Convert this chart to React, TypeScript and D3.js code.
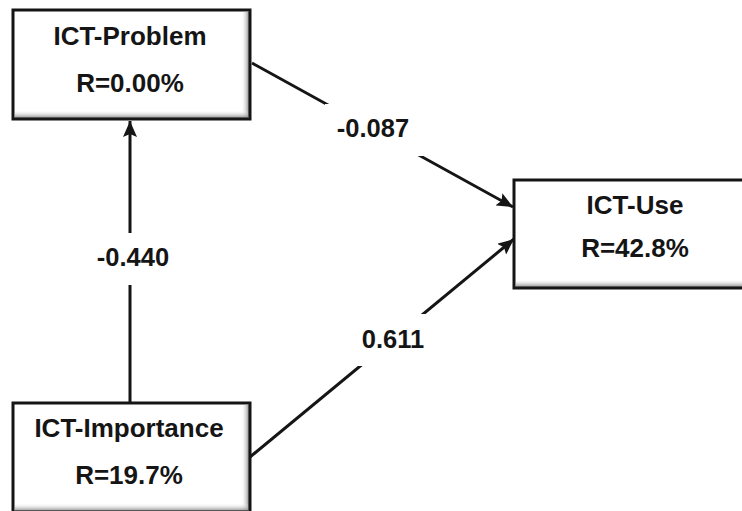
import React from "react";
import * as d3 from "d3";

const nodeNames = ["ICT-Problem", "ICT-Use", "ICT-Importance"];
const nodeR = ["R=0.00%", "R=42.8%", "R=19.7%"];
const pathFrom = [0, 2, 2];
const pathTo = [1, 0, 1];
const pathCoef = ["-0.087", "-0.440", "0.611"];

// layout
const boxes = [
  { x: 13, y: 10, w: 237, h: 109, tx: 130, t1: 45, t2: 92 },
  { x: 514, y: 180, w: 244, h: 108, tx: 635, t1: 214, t2: 257 },
  { x: 13, y: 403, w: 237, h: 109, tx: 129, t1: 437, t2: 484 },
];
const arrows = [
  { x1: 252, y1: 63, x2: 513, y2: 207, lx: 373, ly: 128, rx: 377, ry: 130 },
  { x1: 130, y1: 403, x2: 130, y2: 121, lx: 133, ly: 257, rx: 130, ry: 259 },
  { x1: 250, y1: 457, x2: 514, y2: 239, lx: 393, ly: 339, rx: 395, ry: 340 },
];

const W = 742;
const H = 511;
const font = "'Liberation Sans', Arial, Helvetica, sans-serif";
const ink = "#151515";

export default function App() {
  const line = d3.line<[number, number]>();
  return (
    <svg
      width={W}
      height={H}
      style={{ position: "absolute", left: 0, top: 0, background: "#fff" }}
    >
      <defs>
        <marker
          id="ah"
          markerUnits="userSpaceOnUse"
          markerWidth={18}
          markerHeight={14}
          refX={16}
          refY={7}
          orient="auto"
        >
          <path d="M0,0 L16,7 L0,14 L3,7 Z" fill={ink} />
        </marker>
        <linearGradient id="gr" x1="0" x2="1" y1="0" y2="0">
          <stop offset="0" stopColor="#fff" stopOpacity={0} />
          <stop offset="1" stopColor="#808080" stopOpacity={0.9} />
        </linearGradient>
        <linearGradient id="gb" x1="0" x2="0" y1="0" y2="1">
          <stop offset="0" stopColor="#fff" stopOpacity={0} />
          <stop offset="1" stopColor="#808080" stopOpacity={0.9} />
        </linearGradient>
      </defs>
      {arrows.map((a, i) => (
        <path
          key={"l" + i}
          d={line([
            [a.x1, a.y1],
            [a.x2, a.y2],
          ]) as string}
          stroke={ink}
          strokeWidth={3}
          fill="none"
          markerEnd="url(#ah)"
        />
      ))}
      {arrows.map((a, i) => (
        <g key={"c" + i}>
          <rect x={a.rx - 52} y={a.ry - 26} width={104} height={52} fill="#fff" />
          <text
            x={a.lx}
            y={a.ly}
            textAnchor="middle"
            dominantBaseline="central"
            fontFamily={font}
            fontWeight="bold"
            fontSize={25.5}
            fill={ink}
          >
            {pathCoef[i]}
          </text>
        </g>
      ))}
      {boxes.map((b, i) => (
        <g key={"b" + i}>
          <rect x={b.x} y={b.y} width={b.w} height={b.h} fill="#fff" />
          <rect x={b.x + b.w - 9} y={b.y + 2} width={8} height={b.h - 4} fill="url(#gr)" />
          <rect x={b.x + 2} y={b.y + b.h - 9} width={b.w - 4} height={8} fill="url(#gb)" />
          <rect
            x={b.x}
            y={b.y}
            width={b.w}
            height={b.h}
            fill="none"
            stroke={ink}
            strokeWidth={3}
          />
          <text
            x={b.tx}
            y={b.t1}
            textAnchor="middle"
            fontFamily={font}
            fontWeight="bold"
            fontSize={26}
            fill={ink}
          >
            {nodeNames[i]}
          </text>
          <text
            x={b.tx}
            y={b.t2}
            textAnchor="middle"
            fontFamily={font}
            fontWeight="bold"
            fontSize={26}
            fill={ink}
          >
            {nodeR[i]}
          </text>
        </g>
      ))}
    </svg>
  );
}
